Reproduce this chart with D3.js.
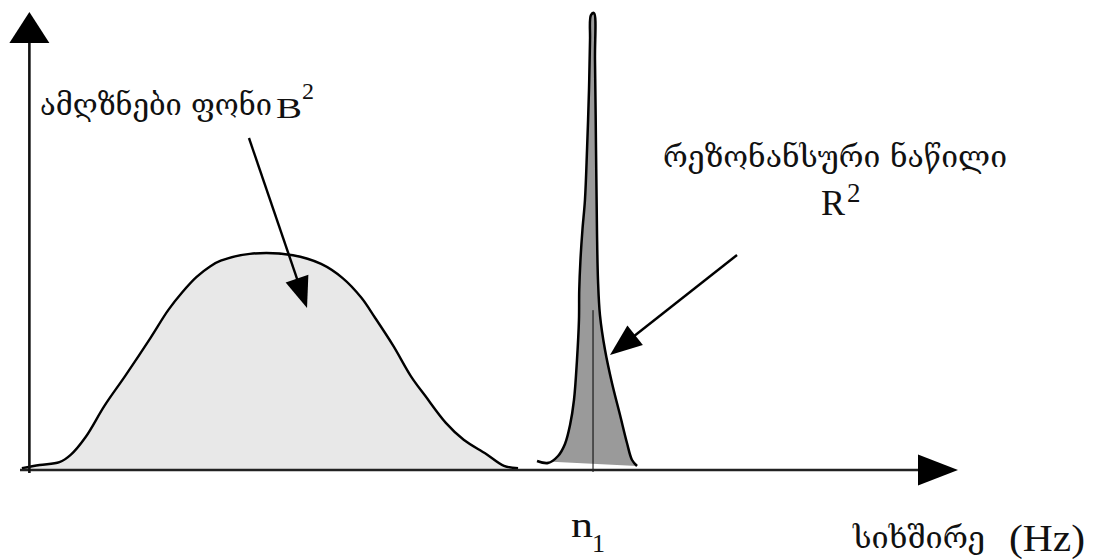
<!DOCTYPE html>
<html>
<head>
<meta charset="utf-8">
<script src="https://cdn.jsdelivr.net/npm/d3@7"></script>
<style>
  body { margin: 0; background: #fff; }
  svg { display: block; }
</style>
</head>
<body>
<svg id="chart" width="1093" height="559"></svg>
<script>
// Broad background spectrum (frequency, amplitude in arbitrary units)
const bgFreq = [0.2, 2.1, 4.2, 5.4, 7.0, 9.0, 11.2, 13.9, 15.8, 17.3, 18.8, 20.3, 21.4, 24.5,
                29.1, 32.1, 34.4, 36.4, 37.8, 39.8, 41.7, 43.2, 45.4, 47.3, 49.7, 51.6, 53.1];
const bgAmp  = [0.4, 1.1, 1.7, 3.3, 7.2, 14.0, 20.5, 28.8, 34.9, 38.8, 42.1, 44.5, 45.7, 47.2,
                46.9, 45.0, 41.9, 37.6, 33.4, 27.1, 20.4, 16.2, 10.3, 6.6, 3.5, 0.9, 0.4];

// Narrow resonance peak, traced up the left flank and down the right flank
const peakFreq = [55.12, 56.29, 57.36, 58.10, 58.64, 59.06, 59.38, 59.59, 59.62, 59.75, 59.96,
                  60.23, 60.45, 60.66, 60.77, 60.87, 61.19, 61.30, 61.41, 61.51, 61.62, 61.83,
                  62.37, 63.11, 63.97, 64.71, 65.25, 65.78];
const peakAmp  = [1.97, 1.53, 3.06, 5.68, 9.83, 15.28, 24.02, 32.75, 39.30, 45.85, 52.40,
                  58.95, 69.87, 82.97, 93.89, 99.34, 99.78, 89.52, 69.87, 52.40, 41.48, 33.84,
                  26.20, 19.00, 12.01, 5.90, 2.18, 0.87];

// Resonance frequency n1 and the height of its marker line
const resonanceFreq = 61.09;
const resonanceMarkAmp = 34.9;

// Position of the vertical axis along the frequency axis
const yAxisFreq = 1.0;

// Annotation arrows: [fromFreq, fromAmp, toFreq, toAmp]
const bgArrow   = [24.41, 72.49, 30.60, 35.37];
const peakArrow = [76.44, 46.94, 62.90, 25.11];

// Text labels
const bgLabel    = "ამღზნები ფონი";
const peakLabel  = "რეზონანსური ნაწილი";
const axisLabel  = "სიხშირე";
const unitLabel  = "(Hz)";

const svg = d3.select("#chart");
svg.append("rect").attr("width", 1093).attr("height", 559).attr("fill", "#fff");

const x = d3.scaleLinear().domain([0, 100]).range([20, 958]);
const y = d3.scaleLinear().domain([0, 100]).range([470, 12]);

const line = d3.line().x(d => x(d[0])).y(d => y(d[1])).curve(d3.curveCatmullRom.alpha(0.5));
const area = d3.area().x(d => x(d[0])).y0(y(0)).y1(d => y(d[1])).curve(d3.curveCatmullRom.alpha(0.5));

// Background hump
const bgPts = bgFreq.map((f, i) => [f, bgAmp[i]]);
svg.append("path").attr("d", area(bgPts)).attr("fill", "#e8e8e8");
svg.append("path").attr("d", line(bgPts))
  .attr("fill", "none").attr("stroke", "#000").attr("stroke-width", 2.4)
  .attr("stroke-linejoin", "round");

// Resonance peak (filled closed outline)
const peakPts = peakFreq.map((f, i) => [f, peakAmp[i]]);
svg.append("path").attr("d", line(peakPts) + "Z").attr("fill", "#9a9a9a");
svg.append("path").attr("d", line(peakPts))
  .attr("fill", "none").attr("stroke", "#000").attr("stroke-width", 2.5)
  .attr("stroke-linejoin", "round");

// Marker line at n1
svg.append("line")
  .attr("x1", x(resonanceFreq)).attr("x2", x(resonanceFreq))
  .attr("y1", y(resonanceMarkAmp)).attr("y2", y(0) + 2)
  .attr("stroke", "#000").attr("stroke-width", 1);

// Axes with arrowheads
const [x0, x1] = x.range();
const [yBase, yTop] = y.range();
const xa = x(yAxisFreq);
svg.append("line").attr("x1", x0).attr("x2", x1 - 38).attr("y1", yBase).attr("y2", yBase)
  .attr("stroke", "#222").attr("stroke-width", 2.6);
svg.append("path")
  .attr("d", `M${x1},${yBase} L${x1 - 40},${yBase - 15.5} L${x1 - 40},${yBase + 15.5} Z`)
  .attr("fill", "#000");
svg.append("line").attr("x1", xa).attr("x2", xa).attr("y1", yBase + 3).attr("y2", yTop + 29)
  .attr("stroke", "#111").attr("stroke-width", 2.6);
svg.append("path")
  .attr("d", `M${xa},${yTop} L${xa - 20},${yTop + 31} L${xa + 20},${yTop + 31} Z`)
  .attr("fill", "#000");

// Annotation arrows
function arrow(a, headLen, headHalf) {
  const sx = x(a[0]), sy = y(a[1]), tx = x(a[2]), ty = y(a[3]);
  const dx = tx - sx, dy = ty - sy, len = Math.hypot(dx, dy);
  const ux = dx / len, uy = dy / len, px = -uy, py = ux;
  const bx = tx - ux * headLen, by = ty - uy * headLen;
  svg.append("line").attr("x1", sx).attr("y1", sy).attr("x2", bx + ux * 2).attr("y2", by + uy * 2)
    .attr("stroke", "#000").attr("stroke-width", 2.4);
  svg.append("path")
    .attr("d", `M${tx},${ty} L${bx + px * headHalf},${by + py * headHalf} L${bx - px * headHalf},${by - py * headHalf} Z`)
    .attr("fill", "#000");
}
arrow(bgArrow, 31, 12);
arrow(peakArrow, 32, 12.5);

// Labels
const geo = "'DejaVu Serif', 'DejaVu Sans', serif";
const rom = "'Liberation Serif', 'Times New Roman', serif";

function label(txt, px, py, family, size, width) {
  const t = svg.append("text").attr("x", px).attr("y", py)
    .attr("font-family", family).attr("font-size", size).attr("fill", "#111").text(txt);
  if (width) t.attr("textLength", width).attr("lengthAdjust", "spacingAndGlyphs");
  return t;
}

label(bgLabel, 40, 115, geo, 29, 232);
label("B", 276, 118, rom, 30, 26);
label("2", 302, 99, rom, 24);

label(peakLabel, 663, 167, geo, 29, 344);
label("R", 821, 215, rom, 36, 24);
label("2", 847, 202, rom, 27);

label("n", 571, 537, rom, 36, 22);
label("1", 592, 552, rom, 26);

label(axisLabel, 853, 548, geo, 29, 132);
label(unitLabel, 1009, 551, rom, 38, 76);
</script>
</body>
</html>
